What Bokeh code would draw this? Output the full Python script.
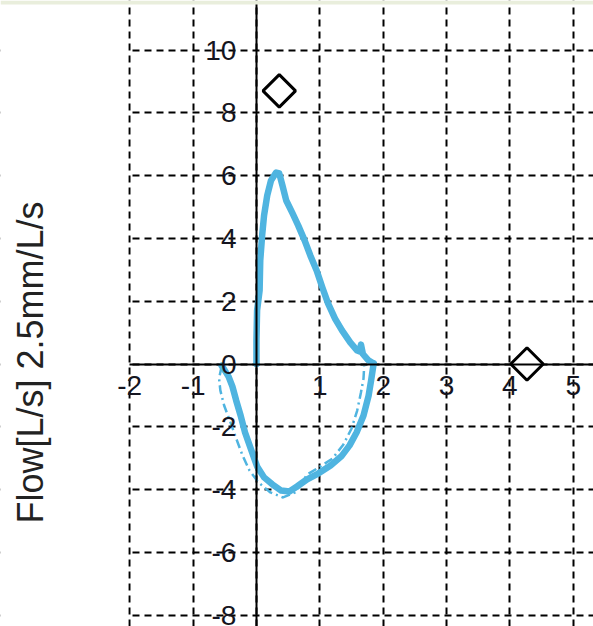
import math
from bokeh.plotting import figure
from bokeh.models import Label, BoxAnnotation
from bokeh.embed import file_html
from bokeh.resources import INLINE

# ---- data ----
x_ticks = [-2, -1, 0, 1, 2, 3, 4, 5]
y_ticks = [-8, -6, -4, -2, 0, 2, 4, 6, 8, 10]

# expiratory limb (measured, solid)
exp_vol = [0.0, 0.0, 0.01, 0.05, 0.06, 0.09, 0.12, 0.17, 0.23, 0.31, 0.36, 0.41, 0.47,
           0.57, 0.66, 0.76, 0.85, 0.95, 1.04, 1.13, 1.24, 1.35, 1.48, 1.59, 1.63,
           1.65, 1.68, 1.76, 1.85]
exp_flow = [0.0, 0.75, 1.71, 2.35, 3.30, 4.10, 4.73, 5.37, 5.85, 6.10, 6.07, 5.69, 5.21,
            4.80, 4.41, 3.94, 3.46, 2.98, 2.44, 1.93, 1.45, 1.07, 0.69, 0.43, 0.40,
            0.62, 0.32, 0.13, 0.02]

# inspiratory limb (measured, solid)
insp_vol = [1.85, 1.81, 1.77, 1.69, 1.58, 1.47, 1.34, 1.17, 0.98, 0.80, 0.64, 0.52,
            0.39, 0.25, 0.12, 0.01, -0.08, -0.18, -0.25, -0.32, -0.38, -0.44, -0.51, -0.55]
insp_flow = [0.02, -0.52, -1.01, -1.64, -2.18, -2.59, -2.94, -3.23, -3.48, -3.67, -3.90,
             -4.06, -4.03, -3.83, -3.61, -3.26, -2.75, -2.18, -1.64, -1.16, -0.71, -0.40,
             -0.17, -0.05]

# second (dash-dot) inspiratory trace
pred_vol = [-0.55, -0.59, -0.57, -0.51, -0.41, -0.32, -0.22, -0.11, 0.03, 0.22, 0.42,
            0.61, 0.80, 1.01, 1.20, 1.37, 1.50, 1.59, 1.65, 1.69, 1.70]
pred_flow = [-0.08, -0.46, -0.84, -1.32, -1.86, -2.37, -2.91, -3.39, -3.77, -4.09, -4.25,
             -4.09, -3.52, -3.26, -3.01, -2.57, -2.06, -1.48, -0.90, -0.46, -0.08]

# reference markers (diamonds)
marker_vol = [0.36, 4.27]
marker_flow = [8.70, 0.0]

axis_title = "Flow[L/s] 2.5mm/L/s"

BLUE = "#4fb4e0"
X0, X1 = -4.04, 5.32
Y0, Y1 = -8.36, 11.58

p = figure(width=593, height=626, x_range=(X0, X1), y_range=(Y0, Y1),
           output_backend="svg", toolbar_location=None, min_border=0)
p.outline_line_color = None
p.background_fill_color = "white"
p.border_fill_color = "white"

# axes crossing at the origin
p.xaxis.fixed_location = 0
p.yaxis.fixed_location = 0
p.xaxis.bounds = (x_ticks[0], X1)
p.xaxis.ticker = x_ticks
p.yaxis.ticker = y_ticks
p.xaxis.major_label_overrides = {t: ("" if t == 0 else str(t)) for t in x_ticks}
p.yaxis.major_label_overrides = {t: str(t) for t in y_ticks}
p.axis.axis_line_color = "black"
p.axis.axis_line_width = 2
p.axis.major_tick_line_color = None
p.axis.major_tick_out = 0
p.axis.major_tick_in = 0
p.axis.minor_tick_line_color = None
p.axis.major_label_text_font = "Liberation Sans"
p.axis.major_label_text_font_size = "28px"
p.axis.major_label_text_color = "#151520"
p.xaxis.major_label_standoff = 12
p.yaxis.major_label_standoff = 20

p.grid.grid_line_color = "black"
p.grid.grid_line_width = 2
p.grid.grid_line_dash = "7 5"

# blank area left of the first vertical grid line
p.add_layout(BoxAnnotation(right=x_ticks[0] - 0.025, fill_color="white", fill_alpha=1.0,
                           line_color=None, level="underlay"))
# thin window strip at the very top
p.add_layout(BoxAnnotation(bottom=11.45, fill_color="#e9eedc", fill_alpha=1.0,
                           line_color=None, level="overlay"))

p.line(pred_vol, pred_flow, line_color=BLUE, line_width=2.5, line_dash="9 4 2 4")
p.line(exp_vol, exp_flow, line_color=BLUE, line_width=6.5, line_join="round", line_cap="round")
p.line(insp_vol, insp_flow, line_color=BLUE, line_width=6.5, line_join="round", line_cap="round")

p.scatter(marker_vol, marker_flow, marker="square", size=23, angle=math.pi / 4,
          line_color="black", line_width=3, fill_color="white")

p.add_layout(Label(x=-3.57, y=0.05, text=axis_title, angle=math.pi / 2,
                   text_align="center", text_baseline="middle",
                   text_font="Liberation Sans", text_font_size="36px",
                   text_color="#222222"))

open("out.html", "w").write(file_html(p, INLINE))
